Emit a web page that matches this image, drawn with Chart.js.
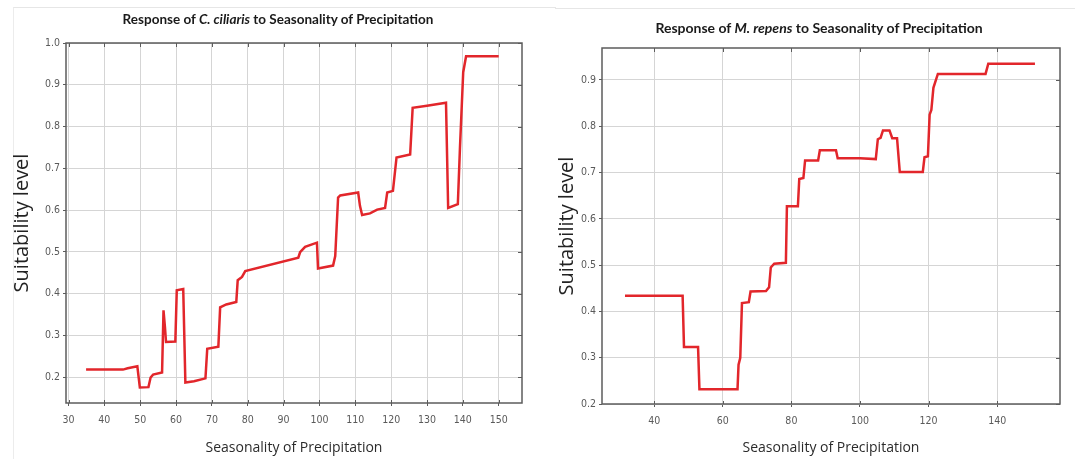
<!DOCTYPE html>
<html>
<head>
<meta charset="utf-8">
<script src="https://cdn.jsdelivr.net/npm/chart.js@4.4.1/dist/chart.umd.min.js"></script>
<style>
  body { margin: 0; background: #fff; }
  #wrap { position: relative; width: 1075px; height: 459px; overflow: hidden; }
  canvas { position: absolute; top: 0; }
  .ttl { position: absolute; white-space: nowrap; font-family: Lato, "Open Sans", sans-serif; font-weight: bold; color: #1a1a1a; transform: translate(-50%, -50%); }
  .panel { position: absolute; border-top: 1px solid #e6e6e6; border-left: 1px solid #ececec; }
</style>
</head>
<body>
<div id="wrap">
  <div class="panel" style="left:13px;top:7px;width:542px;height:460px"></div>
  <div class="panel" style="left:555px;top:8px;width:530px;height:460px;border-left:none"></div>
  <canvas id="chartCiliaris" width="540" height="459" style="left:0"></canvas>
  <canvas id="chartRepens" width="535" height="459" style="left:540px"></canvas>
  <div class="ttl" style="left:278px;top:19px;font-size:13.5px">Response of <i>C. ciliaris</i> to Seasonality of Precipitation</div>
  <div class="ttl" style="left:819px;top:27px;font-size:14px">Response of <i>M. repens</i> to Seasonality of Precipitation</div>
</div>
<script>
//Data
const ciliarisX = [34.9, 45.2, 46.5, 49.2, 49.9, 52.3, 52.9, 53.6, 56.1, 56.5, 56.9, 57.2, 59.8, 60.2, 62.0, 62.6, 65.0, 68.2, 68.7, 71.8, 72.3, 74.0, 76.8, 77.2, 78.4, 79.3, 94.1, 94.6, 96.0, 99.3, 99.6, 103.8, 104.4, 105.2, 105.8, 110.8, 111.3, 111.9, 114.1, 116.1, 118.3, 118.9, 120.5, 121.5, 125.3, 126.0, 130.0, 135.3, 135.9, 138.6, 139.2, 139.6, 140.1, 140.9, 150.0];
const ciliarisY = [0.218, 0.218, 0.221, 0.226, 0.175, 0.176, 0.199, 0.206, 0.211, 0.360, 0.320, 0.284, 0.285, 0.408, 0.411, 0.187, 0.190, 0.197, 0.268, 0.273, 0.367, 0.374, 0.380, 0.432, 0.440, 0.454, 0.486, 0.499, 0.512, 0.522, 0.460, 0.467, 0.490, 0.630, 0.635, 0.642, 0.610, 0.588, 0.592, 0.601, 0.605, 0.642, 0.646, 0.726, 0.733, 0.845, 0.850, 0.857, 0.605, 0.614, 0.750, 0.830, 0.930, 0.968, 0.968];

const repensX = [31.5, 48.3, 48.7, 52.8, 53.2, 64.3, 64.6, 65.1, 65.6, 67.6, 68.1, 72.6, 73.5, 74.0, 75.0, 78.4, 78.7, 81.9, 82.3, 83.5, 84.0, 87.8, 88.3, 93.0, 93.5, 100.0, 104.6, 105.2, 106.0, 106.7, 108.6, 109.4, 110.8, 111.6, 118.3, 118.8, 119.8, 120.3, 120.8, 121.4, 122.7, 136.6, 137.4, 151.0];
const repensY = [0.434, 0.434, 0.323, 0.323, 0.232, 0.232, 0.285, 0.300, 0.418, 0.420, 0.443, 0.444, 0.452, 0.495, 0.503, 0.505, 0.627, 0.627, 0.686, 0.688, 0.726, 0.726, 0.748, 0.748, 0.731, 0.731, 0.729, 0.772, 0.775, 0.791, 0.791, 0.774, 0.774, 0.701, 0.701, 0.733, 0.735, 0.825, 0.835, 0.883, 0.913, 0.913, 0.935, 0.935];

const ciliarisXTicks = [30, 40, 50, 60, 70, 80, 90, 100, 110, 120, 130, 140, 150];
const ciliarisYTicks = [0.2, 0.3, 0.4, 0.5, 0.6, 0.7, 0.8, 0.9, 1.0];
const repensXTicks = [40, 60, 80, 100, 120, 140];
const repensYTicks = [0.2, 0.3, 0.4, 0.5, 0.6, 0.7, 0.8, 0.9];

const xTitle = "Seasonality of Precipitation";
const yTitle = "Suitability level";

const tickFont = { family: "'Liberation Sans Narrow', 'DejaVu Sans Condensed', Arial, sans-serif", size: 10.5 };

//box round the plot with small inward ticks
const framePlugin = {
  id: "frame",
  afterDraw(chart) {
    const { ctx, chartArea: a, scales } = chart;
    ctx.save();
    ctx.strokeStyle = "#5c5c5c";
    ctx.lineWidth = 1.5;
    ctx.strokeRect(a.left, a.top, a.right - a.left, a.bottom - a.top);
    ctx.lineWidth = 1;
    ctx.beginPath();
    scales.x.ticks.forEach(t => {
      const px = Math.round(scales.x.getPixelForValue(t.value)) + 0.5;
      ctx.moveTo(px, a.top); ctx.lineTo(px, a.top + 4);
      ctx.moveTo(px, a.bottom); ctx.lineTo(px, a.bottom - 3);
    });
    scales.y.ticks.forEach(t => {
      const py = Math.round(scales.y.getPixelForValue(t.value)) + 0.5;
      ctx.moveTo(a.right, py); ctx.lineTo(a.right - 4, py);
    });
    ctx.stroke();
    ctx.restore();
  }
};

function makeChart(id, xs, ys, xTicks, yTicks, o) {
  const ctx = document.getElementById(id).getContext("2d");
  return new Chart(ctx, {
    type: "scatter",
    data: {
      datasets: [{
        data: xs.map((v, i) => ({ x: v, y: ys[i] })),
        showLine: true,
        borderColor: "#e2262b",
        borderWidth: 2.5,
        pointRadius: 0,
        tension: 0,
      }]
    },
    options: {
      responsive: false,
      animation: false,
      devicePixelRatio: 1,
      layout: { padding: { left: 0, right: o.padRight, top: o.padTop, bottom: 0 } },
      plugins: { legend: { display: false }, tooltip: { enabled: false } },
      scales: {
        x: {
          type: "linear",
          min: o.xMin,
          max: o.xMax,
          afterBuildTicks: s => { s.ticks = xTicks.map(v => ({ value: v })); },
          afterFit: s => { s.height = o.xHeight; },
          grid: { color: "#d5d5d5", tickColor: "#5c5c5c", tickLength: 3 },
          border: { display: false },
          ticks: { font: tickFont, color: "#5a5a5a", padding: 8, maxRotation: 0 },
          title: { display: true, text: xTitle, color: "#2b2b2b", font: { family: "'Open Sans', sans-serif", size: 14 }, padding: { top: 0, bottom: 3 } }
        },
        y: {
          type: "linear",
          min: o.yMin,
          max: o.yMax,
          afterBuildTicks: s => { s.ticks = yTicks.map(v => ({ value: v })); },
          afterFit: s => { s.width = o.yWidth; },
          grid: { color: "#d5d5d5", tickColor: "#5c5c5c", tickLength: 3 },
          border: { display: false },
          ticks: { font: tickFont, color: "#5a5a5a", padding: 3, callback: v => v.toFixed(1) },
          title: { display: true, text: yTitle, color: "#222", font: { family: "'Open Sans', sans-serif", size: 20 }, padding: { top: o.yTitlePad, bottom: 0 } }
        }
      }
    },
    plugins: [framePlugin]
  });
}

makeChart("chartCiliaris", ciliarisX, ciliarisY, ciliarisXTicks, ciliarisYTicks,
  { xMin: 29.3, xMax: 156.5, yMin: 0.138, yMax: 1.0, padRight: 18, padTop: 43, xHeight: 56, yWidth: 66, yTitlePad: 10 });
makeChart("chartRepens", repensX, repensY, repensXTicks, repensYTicks,
  { xMin: 24.8, xMax: 158.3, yMin: 0.2, yMax: 0.969, padRight: 15, padTop: 48, xHeight: 55, yWidth: 62, yTitlePad: 15 });
</script>
</body>
</html>
